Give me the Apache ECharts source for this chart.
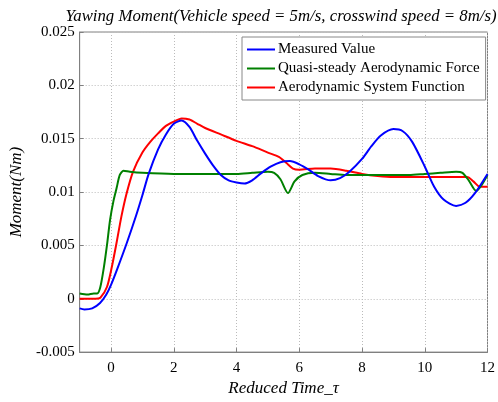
<!DOCTYPE html>
<html>
<head>
<meta charset="utf-8">
<script src="https://cdn.jsdelivr.net/npm/echarts@6/dist/echarts.min.js"></script>
<style>
  html, body { margin: 0; padding: 0; background: #fff; }
  #chart { width: 498px; height: 402px; }
</style>
</head>
<body>
<div id="chart"></div>
<script>
// data
const measuredTau = [-1, -0.85, -0.6, -0.35, -0.15, 0, 0.2, 0.5, 0.8, 1, 1.2, 1.5, 1.75, 2, 2.25, 2.5, 2.75, 3, 3.25, 3.5, 3.75, 4, 4.25, 4.5, 4.8, 5.1, 5.4, 5.7, 6, 6.3, 6.6, 7, 7.3, 7.6, 8, 8.3, 8.6, 9, 9.3, 9.6, 10, 10.3, 10.6, 11, 11.3, 11.6, 12];
const measured = [-0.0009, -0.001, -0.0009, -0.0004, 0.0004, 0.0013, 0.0028, 0.0052, 0.0078, 0.0097, 0.0117, 0.014, 0.0154, 0.0164, 0.0167, 0.0161, 0.0148, 0.0136, 0.0125, 0.0116, 0.0111, 0.0109, 0.0108, 0.0111, 0.0118, 0.0124, 0.0128, 0.0129, 0.0126, 0.0121, 0.0115, 0.0111, 0.0113, 0.0119, 0.0131, 0.0143, 0.0153, 0.0159, 0.0157, 0.0147, 0.0124, 0.0105, 0.0093, 0.0087, 0.009, 0.0099, 0.0117];

const quasiTau = [-1, -0.75, -0.55, -0.44, -0.34, -0.23, -0.13, -0.03, 0.08, 0.18, 0.28, 0.4, 0.6, 1, 2, 3, 4, 4.5, 5, 5.2, 5.4, 5.64, 5.85, 6.1, 6.5, 7, 7.5, 8, 8.5, 9, 9.5, 10, 10.5, 11, 11.2, 11.4, 11.64, 11.8, 12];
const quasi = [0.0005, 0.0004, 0.0005, 0.0005, 0.0011, 0.0029, 0.005, 0.0074, 0.0092, 0.0104, 0.0116, 0.012, 0.0119, 0.0118, 0.0117, 0.0117, 0.0117, 0.0118, 0.0119, 0.0118, 0.0112, 0.0099, 0.011, 0.0116, 0.0118, 0.0117, 0.0116, 0.0116, 0.0116, 0.0116, 0.0116, 0.0117, 0.0118, 0.0119, 0.0118, 0.0111, 0.0101, 0.0106, 0.0116];

const systemTau = [-1, -0.5, -0.34, -0.13, 0.02, 0.18, 0.33, 0.49, 0.7, 1, 1.25, 1.5, 1.75, 2, 2.25, 2.5, 2.75, 3, 3.5, 4, 4.5, 5, 5.35, 5.6, 5.8, 6, 6.5, 7, 7.5, 8, 8.5, 9, 10, 11.35, 11.55, 11.75, 12];
const system = [0, 0, 0.0001, 0.0011, 0.0029, 0.0053, 0.0077, 0.0098, 0.0119, 0.0137, 0.0147, 0.0155, 0.0162, 0.0166, 0.0169, 0.0168, 0.0164, 0.016, 0.0154, 0.0148, 0.0143, 0.0137, 0.0133, 0.0127, 0.0122, 0.0121, 0.0122, 0.0122, 0.012, 0.0117, 0.0115, 0.0114, 0.0114, 0.0114, 0.011, 0.0105, 0.0105];

const xTicks = [0, 2, 4, 6, 8, 10, 12];

const seriesNames = ["Measured Value", "Quasi-steady Aerodynamic Force", "Aerodynamic System Function"];
const seriesColors = ["#0000ff", "#008000", "#ff0000"];

const pairs = (xs, ys) => xs.map((x, i) => [x, ys[i]]);

const font = "Liberation Serif";
const chart = echarts.init(document.getElementById("chart"));

const lineSeries = [
  pairs(measuredTau, measured),
  pairs(quasiTau, quasi),
  pairs(systemTau, system),
].map((data, i) => ({
  name: seriesNames[i],
  type: "line",
  data: data,
  smooth: 0.25,
  symbol: "none",
  lineStyle: { color: seriesColors[i], width: 2 },
  itemStyle: { color: seriesColors[i] },
  z: 3 - i,
}));

chart.setOption({
  animation: false,
  backgroundColor: "#fff",
  title: {
    text: "Yawing Moment(Vehicle speed = 5m/s, crosswind speed = 8m/s)",
    left: 276,
    textAlign: "center",
    top: 3,
    textStyle: { fontFamily: font, fontStyle: "italic", fontWeight: "normal", fontSize: 16.8, color: "#000" },
  },
  legend: {
    orient: "vertical",
    left: 242,
    top: 37,
    padding: [5, 6, 5, 5],
    itemGap: 4,
    itemWidth: 28,
    itemHeight: 2,
    icon: "rect",
    backgroundColor: "#fff",
    borderColor: "#888",
    borderWidth: 1,
    textStyle: { fontFamily: font, fontSize: 15, color: "#000", padding: [0, 0, 0, -2] },
    data: seriesNames,
  },
  grid: {
    left: 72,
    right: 7,
    top: 32,
    bottom: 38,
    show: true,
    borderColor: "#808080",
    borderWidth: 1,
  },
  xAxis: {
    type: "value",
    min: -1,
    max: 12,
    name: "Reduced Time_τ",
    nameLocation: "middle",
    nameGap: 24,
    nameTextStyle: { fontFamily: font, fontStyle: "italic", fontSize: 17, color: "#000" },
    axisLine: { show: true, onZero: false, lineStyle: { color: "#808080" } },
    axisTick: { show: true, inside: true, length: 4, customValues: xTicks, lineStyle: { color: "#808080" } },
    axisLabel: { fontFamily: font, fontSize: 15, color: "#000", margin: 8, customValues: xTicks },
    splitLine: { show: true, customValues: xTicks, lineStyle: { color: "#bbb", type: [1, 2] } },
  },
  yAxis: {
    type: "value",
    min: -0.005,
    max: 0.025,
    interval: 0.005,
    name: "Moment(Nm)",
    nameLocation: "middle",
    nameGap: 52,
    nameTextStyle: { fontFamily: font, fontStyle: "italic", fontSize: 17, color: "#000" },
    axisLine: { show: true, onZero: false, lineStyle: { color: "#808080" } },
    axisTick: { show: true, inside: true, length: 4, lineStyle: { color: "#808080" } },
    axisLabel: {
      fontFamily: font, fontSize: 15, color: "#000", margin: 5,
      formatter: (v) => String(parseFloat(v.toFixed(3))),
    },
    splitLine: { show: true, lineStyle: { color: "#bbb", type: [1, 2] } },
  },
  series: lineSeries,
});
</script>
</body>
</html>
